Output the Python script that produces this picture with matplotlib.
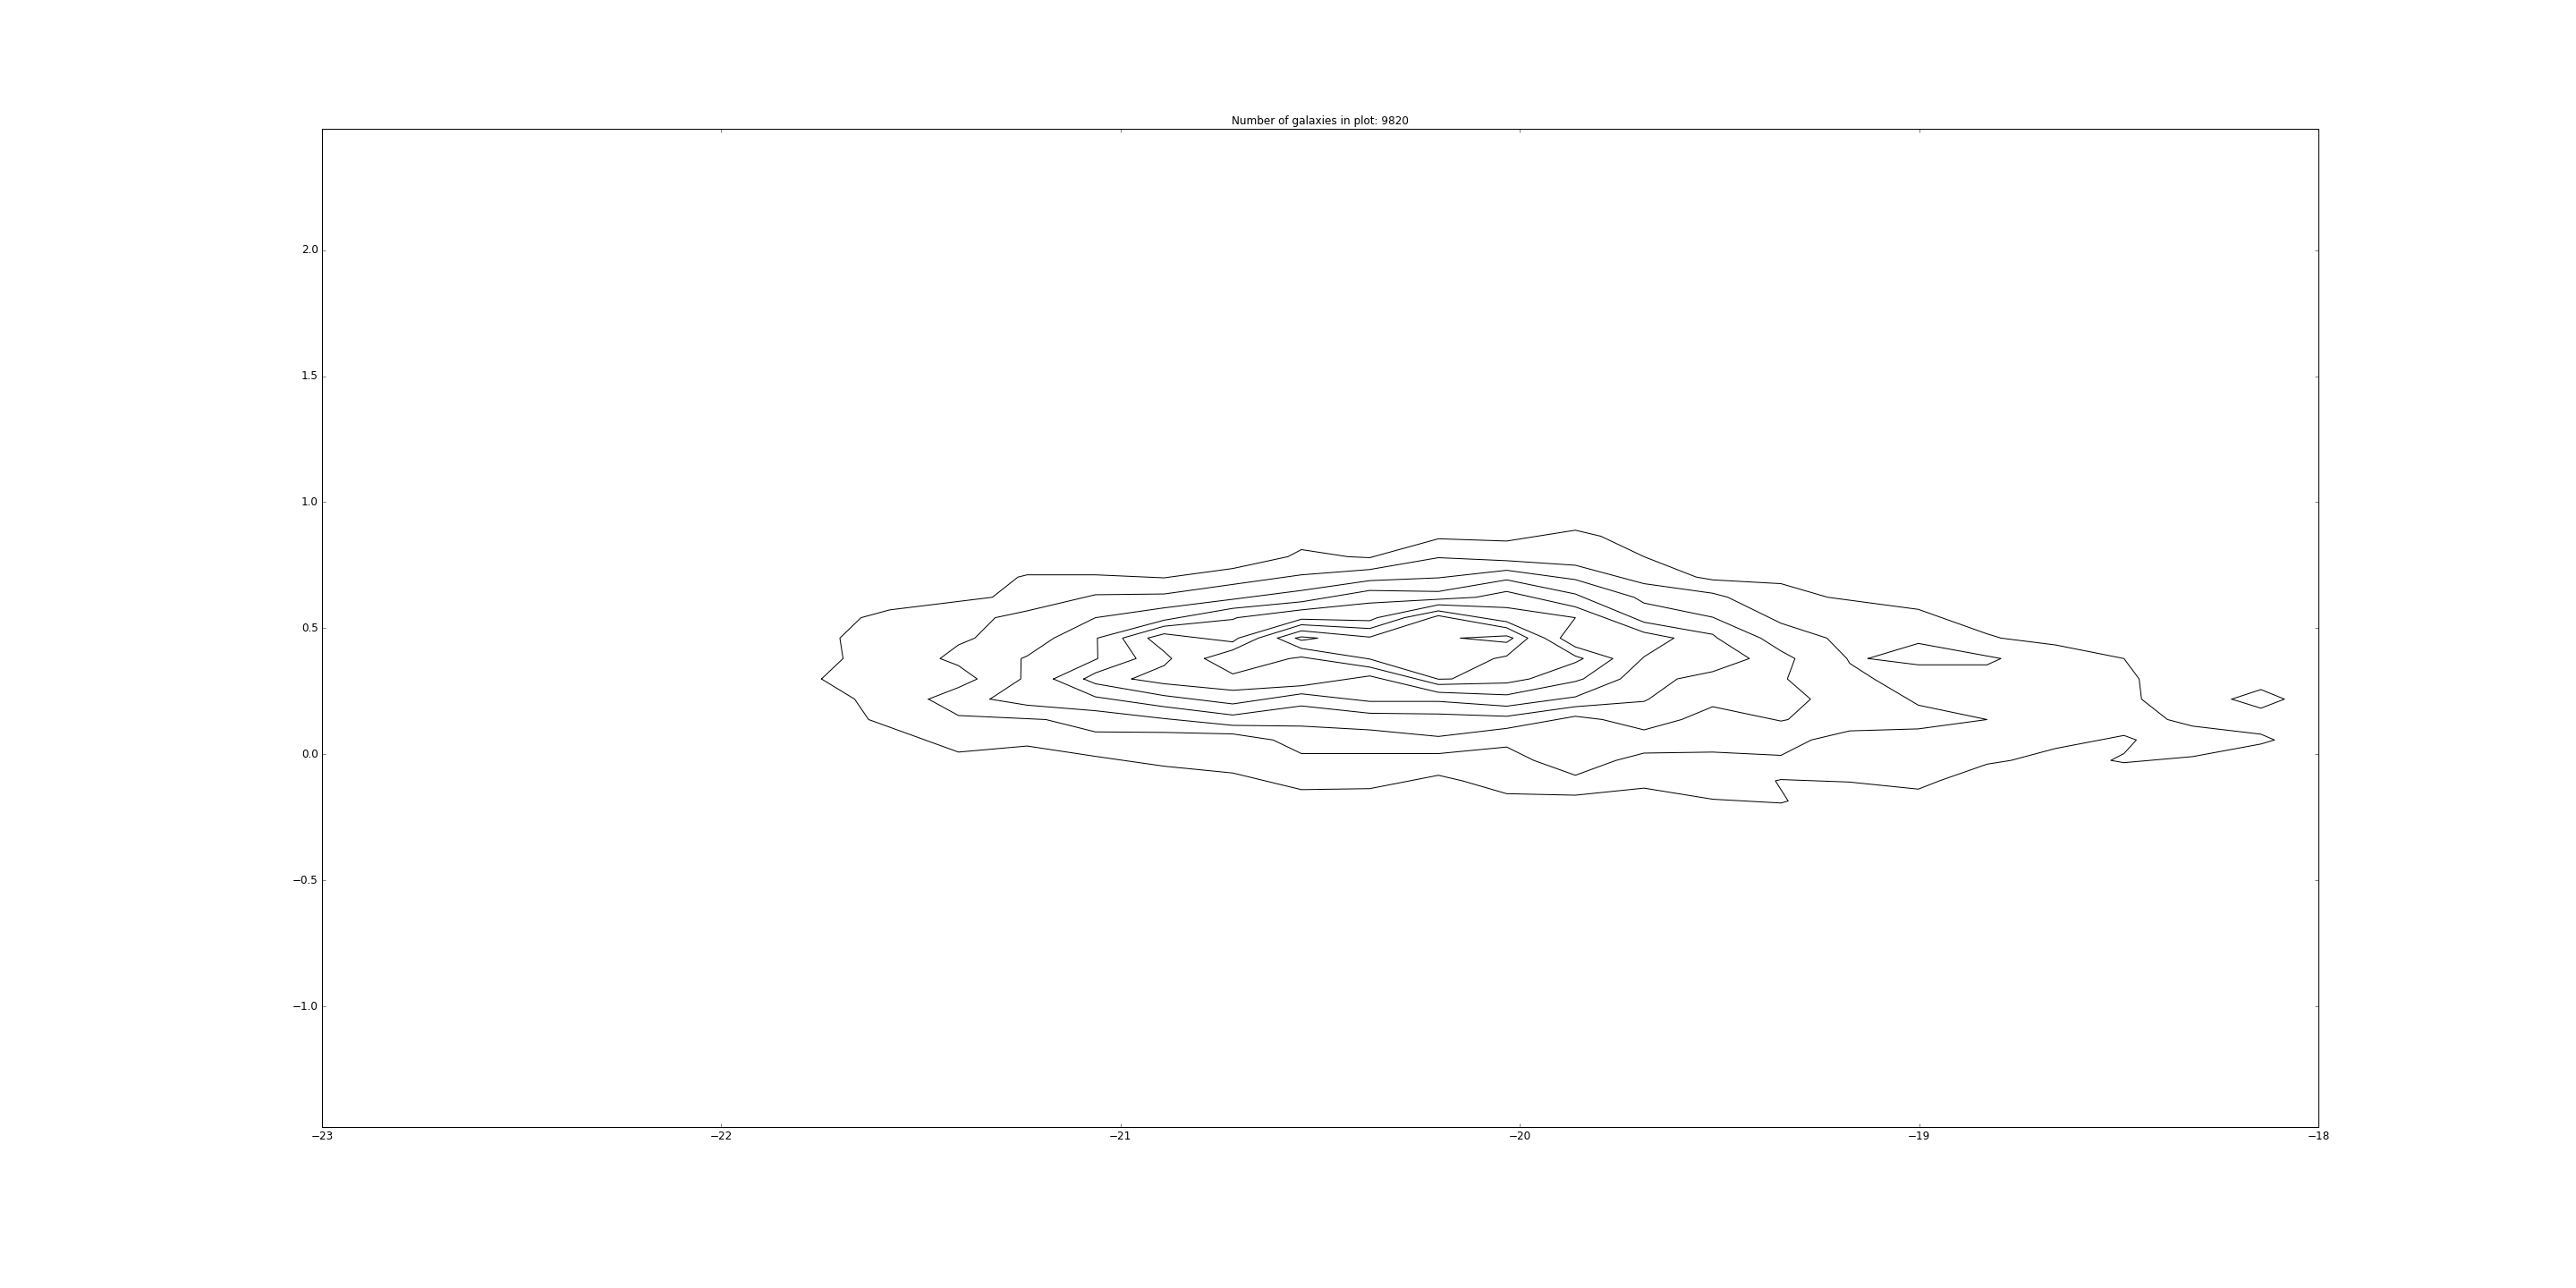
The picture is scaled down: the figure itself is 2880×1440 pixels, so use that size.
import numpy as np
import matplotlib.pyplot as plt

plt.style.use('classic')

n_galaxies = 9820

# density contours, one closed line per list of (x, y) vertices
level1 = [(-21.749, 0.299), (-21.695, 0.380), (-21.703, 0.461), (-21.650, 0.542), (-21.578, 0.573),
          (-21.321, 0.623), (-21.257, 0.703), (-21.234, 0.712), (-21.063, 0.712), (-20.891, 0.700),
          (-20.719, 0.737), (-20.581, 0.784), (-20.547, 0.812), (-20.431, 0.784), (-20.376, 0.780),
          (-20.204, 0.855), (-20.033, 0.846), (-19.861, 0.889), (-19.797, 0.865), (-19.689, 0.784),
          (-19.558, 0.703), (-19.517, 0.692), (-19.346, 0.677), (-19.229, 0.623), (-19.002, 0.575),
          (-18.830, 0.478), (-18.795, 0.461), (-18.659, 0.434), (-18.487, 0.380), (-18.449, 0.299),
          (-18.443, 0.219), (-18.378, 0.138), (-18.315, 0.112), (-18.144, 0.080), (-18.110, 0.057),
          (-18.144, 0.041), (-18.315, -0.009), (-18.487, -0.033), (-18.520, -0.024), (-18.487, 0.003),
          (-18.456, 0.057), (-18.487, 0.075), (-18.659, 0.023), (-18.770, -0.024), (-18.830, -0.039),
          (-18.949, -0.105), (-19.002, -0.138), (-19.174, -0.110), (-19.346, -0.100), (-19.360, -0.105),
          (-19.328, -0.185), (-19.346, -0.193), (-19.517, -0.178), (-19.689, -0.134), (-19.861, -0.162),
          (-20.033, -0.156), (-20.144, -0.105), (-20.204, -0.083), (-20.376, -0.136), (-20.547, -0.140),
          (-20.719, -0.074), (-20.891, -0.047), (-21.063, -0.008), (-21.234, 0.033), (-21.406, 0.009),
          (-21.631, 0.138), (-21.666, 0.219)]
level1_island = [(-18.217, 0.219), (-18.144, 0.257), (-18.085, 0.219), (-18.144, 0.183)]

level2 = [(-21.481, 0.219), (-21.406, 0.265), (-21.359, 0.299), (-21.406, 0.352), (-21.452, 0.380),
          (-21.406, 0.434), (-21.365, 0.461), (-21.314, 0.542), (-21.234, 0.569), (-21.063, 0.633),
          (-20.891, 0.636), (-20.719, 0.674), (-20.547, 0.712), (-20.376, 0.733), (-20.204, 0.780),
          (-20.033, 0.768), (-19.861, 0.750), (-19.689, 0.677), (-19.517, 0.639), (-19.479, 0.623),
          (-19.346, 0.520), (-19.231, 0.461), (-19.181, 0.380), (-19.174, 0.361), (-19.113, 0.299),
          (-19.002, 0.195), (-18.830, 0.138), (-19.002, 0.101), (-19.174, 0.093), (-19.270, 0.057),
          (-19.346, -0.004), (-19.517, 0.009), (-19.689, 0.005), (-19.759, -0.024), (-19.861, -0.083),
          (-19.965, -0.024), (-20.033, 0.029), (-20.204, 0.003), (-20.376, 0.003), (-20.547, 0.003),
          (-20.618, 0.057), (-20.719, 0.081), (-20.891, 0.087), (-21.063, 0.089), (-21.187, 0.138),
          (-21.406, 0.154)]
level2_island = [(-19.128, 0.380), (-19.002, 0.440), (-18.795, 0.380), (-18.830, 0.355), (-19.002, 0.355)]

level3 = [(-21.327, 0.219), (-21.250, 0.299), (-21.249, 0.380), (-21.234, 0.390), (-21.167, 0.461),
          (-21.063, 0.542), (-20.891, 0.581), (-20.719, 0.615), (-20.547, 0.650), (-20.376, 0.689),
          (-20.204, 0.700), (-20.033, 0.730), (-19.861, 0.693), (-19.714, 0.623), (-19.689, 0.600),
          (-19.517, 0.544), (-19.397, 0.461), (-19.346, 0.410), (-19.311, 0.380), (-19.330, 0.299),
          (-19.272, 0.219), (-19.328, 0.138), (-19.346, 0.132), (-19.517, 0.189), (-19.595, 0.138),
          (-19.689, 0.097), (-19.793, 0.138), (-19.861, 0.151), (-20.033, 0.103), (-20.204, 0.071),
          (-20.376, 0.097), (-20.547, 0.112), (-20.719, 0.115), (-20.891, 0.142), (-21.063, 0.173),
          (-21.234, 0.195)]

level4 = [(-21.168, 0.299), (-21.057, 0.380), (-21.058, 0.461), (-20.891, 0.532), (-20.719, 0.579),
          (-20.547, 0.605), (-20.376, 0.650), (-20.204, 0.646), (-20.033, 0.692), (-19.861, 0.636),
          (-19.689, 0.524), (-19.517, 0.476), (-19.505, 0.461), (-19.425, 0.380), (-19.517, 0.328),
          (-19.606, 0.299), (-19.677, 0.219), (-19.689, 0.210), (-19.861, 0.189), (-20.033, 0.151),
          (-20.204, 0.160), (-20.376, 0.163), (-20.547, 0.192), (-20.719, 0.156), (-20.891, 0.189),
          (-21.063, 0.228)]

level5 = [(-21.092, 0.299), (-21.063, 0.323), (-20.961, 0.380), (-20.995, 0.461), (-20.891, 0.508),
          (-20.719, 0.535), (-20.708, 0.542), (-20.547, 0.573), (-20.376, 0.600), (-20.204, 0.615),
          (-20.110, 0.623), (-20.033, 0.646), (-19.861, 0.585), (-19.689, 0.484), (-19.614, 0.461),
          (-19.689, 0.387), (-19.748, 0.299), (-19.861, 0.228), (-20.033, 0.191), (-20.204, 0.210),
          (-20.376, 0.210), (-20.547, 0.240), (-20.719, 0.200), (-20.891, 0.233), (-21.063, 0.280)]

level6 = [(-20.972, 0.299), (-20.891, 0.352), (-20.872, 0.380), (-20.891, 0.408), (-20.932, 0.461),
          (-20.891, 0.478), (-20.719, 0.446), (-20.705, 0.461), (-20.547, 0.536), (-20.376, 0.530),
          (-20.357, 0.542), (-20.204, 0.593), (-20.033, 0.582), (-19.861, 0.542), (-19.899, 0.461),
          (-19.861, 0.426), (-19.767, 0.380), (-19.841, 0.299), (-19.861, 0.289), (-20.033, 0.236),
          (-20.204, 0.246), (-20.376, 0.311), (-20.547, 0.272), (-20.719, 0.254), (-20.891, 0.280)]

level7 = [(-20.790, 0.380), (-20.719, 0.414), (-20.655, 0.461), (-20.547, 0.514), (-20.376, 0.499),
          (-20.289, 0.542), (-20.204, 0.569), (-20.033, 0.526), (-19.938, 0.461), (-19.861, 0.390),
          (-19.841, 0.380), (-19.861, 0.364), (-19.976, 0.299), (-20.033, 0.283), (-20.204, 0.277),
          (-20.376, 0.346), (-20.547, 0.386), (-20.577, 0.380), (-20.719, 0.319)]

level8 = [(-20.607, 0.461), (-20.547, 0.490), (-20.376, 0.465), (-20.222, 0.542), (-20.204, 0.550),
          (-20.033, 0.502), (-19.980, 0.461), (-20.033, 0.390), (-20.065, 0.380), (-20.170, 0.299),
          (-20.204, 0.298), (-20.376, 0.378), (-20.547, 0.420)]

level9_a = [(-20.562, 0.461), (-20.547, 0.466), (-20.506, 0.461), (-20.547, 0.452)]
level9_b = [(-20.148, 0.461), (-20.033, 0.470), (-20.017, 0.461), (-20.033, 0.444)]

contours = [level1, level1_island, level2, level2_island, level3, level4,
            level5, level6, level7, level8, level9_a, level9_b]

y_ticks = [-1.0, -0.5, 0.0, 0.5, 1.0, 1.5, 2.0]

fig, ax = plt.subplots(figsize=(40, 20), dpi=72)
fig.subplots_adjust(left=0.125, right=0.9, bottom=0.125, top=0.9)

for line in contours:
    xy = np.array(line + line[:1])
    ax.plot(xy[:, 0], xy[:, 1], color='k', lw=1)

ax.set_xlim(-23, -18)
ax.set_ylim(-1.478, 2.481)
ax.set_yticks(y_ticks)
ax.set_title('Number of galaxies in plot: %d' % n_galaxies, fontsize=12)

fig.savefig('out.png', dpi=72, facecolor='white')
